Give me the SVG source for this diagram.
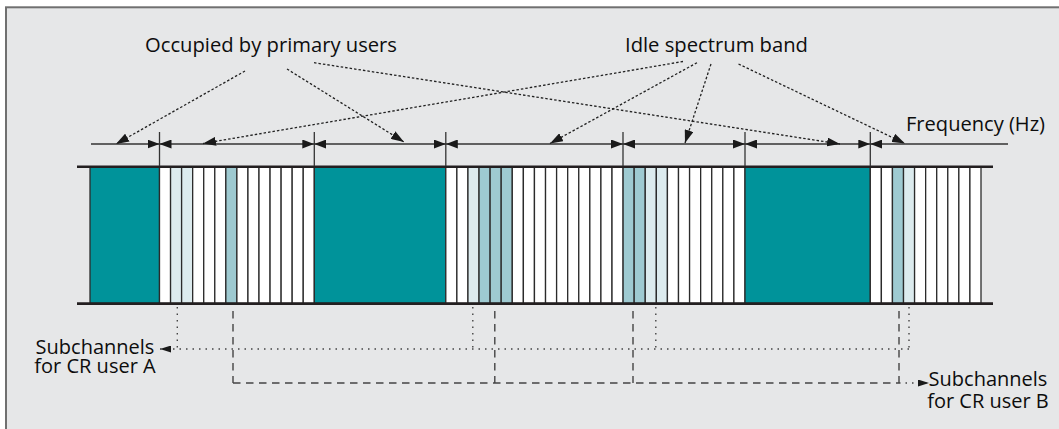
<svg xmlns="http://www.w3.org/2000/svg" width="1059" height="429" viewBox="0 0 1059 429">
<style>
.lbl{font-family:"Open Sans","Noto Sans","Liberation Sans",sans-serif;font-size:20px;fill:#0d0d0d}
.c{fill:#ffffff;stroke:#2b2b2b;stroke-width:1.3}
.lt{fill:#dcebee}
.md{fill:#9ecad1}
.occ{fill:#00939a;stroke:#2b2b2b;stroke-width:1.3}
.edge{stroke:#231f20;stroke-width:2.6;fill:none}
.ext{stroke:#333;stroke-width:1.3;fill:none}
.dim{stroke:#333;stroke-width:1.3;fill:none}
.dot{stroke:#222;stroke-width:1.3;fill:none;stroke-dasharray:2.5 2}
.dA{stroke:#444;stroke-width:1.4;fill:none;stroke-dasharray:1.5 5}
.dB{stroke:#444;stroke-width:1.4;fill:none;stroke-dasharray:7.5 5.5}
</style>
<defs>
<marker id="dh" markerUnits="userSpaceOnUse" markerWidth="12" markerHeight="9" refX="12" refY="4.5" orient="auto-start-reverse" viewBox="0 0 12 9"><path d="M0,0 L12,4.5 L0,9 z" fill="#1a1a1a"/></marker>
<marker id="ah" markerUnits="userSpaceOnUse" markerWidth="13" markerHeight="9" refX="13" refY="4.5" orient="auto" viewBox="0 0 13 9"><path d="M0,0 L13,4.5 L0,9 z" fill="#1a1a1a"/></marker>
<marker id="sh" markerUnits="userSpaceOnUse" markerWidth="11" markerHeight="7" refX="11" refY="3.5" orient="auto" viewBox="0 0 11 7"><path d="M0,0 L11,3.5 L0,7 z" fill="#1a1a1a"/></marker>
</defs>
<rect x="6" y="7.3" width="1070" height="440" fill="#e6e7e8" stroke="#707070" stroke-width="2"/>

<g id="band">
<g id="occupied-1"><rect class="occ" x="90" y="166.7" width="69.5" height="136.8"/></g>
<g id="idle-1">
<rect class="c" x="159.5" y="166.7" width="11.06" height="136.8"/>
<rect class="c lt" x="170.56" y="166.7" width="11.05" height="136.8"/>
<rect class="c lt" x="181.61" y="166.7" width="11.06" height="136.8"/>
<rect class="c" x="192.67" y="166.7" width="11.06" height="136.8"/>
<rect class="c" x="203.73" y="166.7" width="11.06" height="136.8"/>
<rect class="c" x="214.79" y="166.7" width="11.05" height="136.8"/>
<rect class="c md" x="225.84" y="166.7" width="11.06" height="136.8"/>
<rect class="c" x="236.9" y="166.7" width="11.06" height="136.8"/>
<rect class="c" x="247.96" y="166.7" width="11.05" height="136.8"/>
<rect class="c" x="259.01" y="166.7" width="11.06" height="136.8"/>
<rect class="c" x="270.07" y="166.7" width="11.06" height="136.8"/>
<rect class="c" x="281.13" y="166.7" width="11.05" height="136.8"/>
<rect class="c" x="292.18" y="166.7" width="11.06" height="136.8"/>
<rect class="c" x="303.24" y="166.7" width="11.06" height="136.8"/>
</g>
<g id="occupied-2"><rect class="occ" x="314.3" y="166.7" width="131.5" height="136.8"/></g>
<g id="idle-2">
<rect class="c" x="445.8" y="166.7" width="11.08" height="136.8"/>
<rect class="c" x="456.88" y="166.7" width="11.08" height="136.8"/>
<rect class="c lt" x="467.96" y="166.7" width="11.08" height="136.8"/>
<rect class="c md" x="479.04" y="166.7" width="11.08" height="136.8"/>
<rect class="c md" x="490.12" y="166.7" width="11.08" height="136.8"/>
<rect class="c md" x="501.2" y="166.7" width="11.09" height="136.8"/>
<rect class="c" x="512.29" y="166.7" width="11.08" height="136.8"/>
<rect class="c" x="523.37" y="166.7" width="11.08" height="136.8"/>
<rect class="c" x="534.45" y="166.7" width="11.08" height="136.8"/>
<rect class="c" x="545.53" y="166.7" width="11.08" height="136.8"/>
<rect class="c" x="556.61" y="166.7" width="11.08" height="136.8"/>
<rect class="c" x="567.69" y="166.7" width="11.08" height="136.8"/>
<rect class="c" x="578.77" y="166.7" width="11.08" height="136.8"/>
<rect class="c" x="589.85" y="166.7" width="11.08" height="136.8"/>
<rect class="c" x="600.93" y="166.7" width="11.09" height="136.8"/>
<rect class="c" x="612.02" y="166.7" width="11.08" height="136.8"/>
<rect class="c md" x="623.1" y="166.7" width="11.08" height="136.8"/>
<rect class="c md" x="634.18" y="166.7" width="11.08" height="136.8"/>
<rect class="c lt" x="645.26" y="166.7" width="11.08" height="136.8"/>
<rect class="c lt" x="656.34" y="166.7" width="11.08" height="136.8"/>
<rect class="c" x="667.42" y="166.7" width="11.08" height="136.8"/>
<rect class="c" x="678.5" y="166.7" width="11.08" height="136.8"/>
<rect class="c" x="689.58" y="166.7" width="11.08" height="136.8"/>
<rect class="c" x="700.66" y="166.7" width="11.08" height="136.8"/>
<rect class="c" x="711.74" y="166.7" width="11.09" height="136.8"/>
<rect class="c" x="722.83" y="166.7" width="11.08" height="136.8"/>
<rect class="c" x="733.91" y="166.7" width="11.09" height="136.8"/>
</g>
<g id="occupied-3"><rect class="occ" x="745" y="166.7" width="125.3" height="136.8"/></g>
<g id="idle-3">
<rect class="c" x="870.3" y="166.7" width="11.07" height="136.8"/>
<rect class="c" x="881.37" y="166.7" width="11.07" height="136.8"/>
<rect class="c md" x="892.44" y="166.7" width="11.07" height="136.8"/>
<rect class="c lt" x="903.51" y="166.7" width="11.07" height="136.8"/>
<rect class="c" x="914.58" y="166.7" width="11.07" height="136.8"/>
<rect class="c" x="925.65" y="166.7" width="11.07" height="136.8"/>
<rect class="c" x="936.72" y="166.7" width="11.07" height="136.8"/>
<rect class="c" x="947.79" y="166.7" width="11.07" height="136.8"/>
<rect class="c" x="958.86" y="166.7" width="11.07" height="136.8"/>
<rect class="c" x="969.93" y="166.7" width="11.07" height="136.8"/>
</g>
<line class="edge" x1="77" y1="166.7" x2="993" y2="166.7"/>
<line class="edge" x1="77" y1="303.6" x2="993" y2="303.6"/>
</g>

<g id="label-occupied"><text class="lbl" x="145" y="52" textLength="252" lengthAdjust="spacingAndGlyphs">Occupied by primary users</text></g>
<g id="label-idle"><text class="lbl" x="625" y="52" textLength="183" lengthAdjust="spacingAndGlyphs">Idle spectrum band</text></g>
<g id="label-frequency"><text class="lbl" x="906" y="131" textLength="139" lengthAdjust="spacingAndGlyphs">Frequency (Hz)</text></g>
<g id="label-user-a"><text class="lbl" text-anchor="middle" x="95" y="353.5">Subchannels</text><text class="lbl" text-anchor="middle" x="95" y="372.5">for CR user A</text></g>
<g id="label-user-b"><text class="lbl" text-anchor="middle" x="988" y="386">Subchannels</text><text class="lbl" text-anchor="middle" x="988" y="408">for CR user B</text></g>

<g id="connectors">
<g id="axis">
<line class="ext" x1="159.5" y1="132" x2="159.5" y2="166"/>
<line class="ext" x1="314.3" y1="132" x2="314.3" y2="166"/>
<line class="ext" x1="445.8" y1="132" x2="445.8" y2="166"/>
<line class="ext" x1="623" y1="132" x2="623" y2="166"/>
<line class="ext" x1="745" y1="132" x2="745" y2="166"/>
<line class="ext" x1="870.3" y1="132" x2="870.3" y2="166"/>
<line class="dim" x1="91" y1="144" x2="159.5" y2="144" marker-end="url(#dh)"/>
<line class="dim" x1="159.5" y1="144" x2="314.3" y2="144" marker-start="url(#dh)" marker-end="url(#dh)"/>
<line class="dim" x1="314.3" y1="144" x2="445.8" y2="144" marker-start="url(#dh)" marker-end="url(#dh)"/>
<line class="dim" x1="445.8" y1="144" x2="623" y2="144" marker-start="url(#dh)" marker-end="url(#dh)"/>
<line class="dim" x1="623" y1="144" x2="745" y2="144" marker-start="url(#dh)" marker-end="url(#dh)"/>
<line class="dim" x1="745" y1="144" x2="870.3" y2="144" marker-start="url(#dh)" marker-end="url(#dh)"/>
<line class="dim" x1="870.3" y1="144" x2="1008" y2="144" marker-start="url(#dh)"/>
</g>
<g id="pointers">
<line class="dot" x1="245" y1="71" x2="116" y2="144" marker-end="url(#ah)"/>
<line class="dot" x1="287" y1="69" x2="404" y2="142" marker-end="url(#ah)"/>
<line class="dot" x1="314" y1="62.7" x2="840" y2="144" marker-end="url(#ah)"/>
<line class="dot" x1="683" y1="61.5" x2="203" y2="143.5" marker-end="url(#ah)"/>
<line class="dot" x1="697" y1="62.7" x2="550" y2="143.5" marker-end="url(#ah)"/>
<line class="dot" x1="711" y1="64" x2="685" y2="143" marker-end="url(#ah)"/>
<line class="dot" x1="738.5" y1="64" x2="905" y2="143.5" marker-end="url(#ah)"/>
</g>
<g id="user-a">
<line class="dA" x1="177.3" y1="307" x2="177.3" y2="349"/>
<line class="dA" x1="472.8" y1="307" x2="472.8" y2="349"/>
<line class="dA" x1="655.8" y1="307" x2="655.8" y2="349"/>
<line class="dA" x1="909" y1="307" x2="909" y2="349"/>
<line class="dA" x1="909" y1="349" x2="160" y2="349" marker-end="url(#sh)"/>
</g>
<g id="user-b">
<line class="dB" x1="233" y1="311" x2="233" y2="383"/>
<line class="dB" x1="494.8" y1="311" x2="494.8" y2="383"/>
<line class="dB" x1="633" y1="311" x2="633" y2="383"/>
<line class="dB" x1="899" y1="311" x2="899" y2="383"/>
<line class="dB" x1="233" y1="383" x2="899" y2="383"/>
<line class="dA" x1="899" y1="383" x2="929" y2="383" stroke-dasharray="1.5 4" marker-end="url(#sh)"/>
</g>
</g>
</svg>
